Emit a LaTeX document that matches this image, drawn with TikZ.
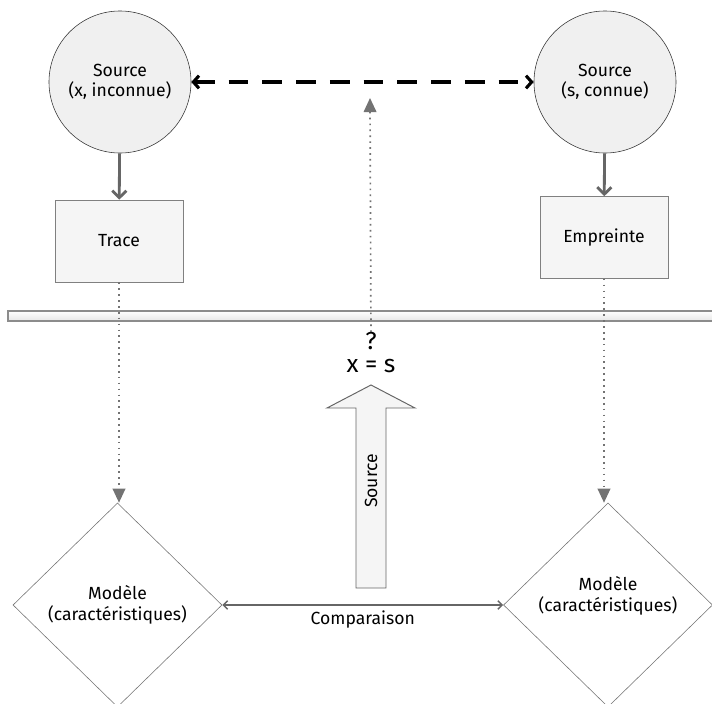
\documentclass[tikz,border=0pt]{standalone}
\usepackage{fontspec}
\setmainfont{Fira Sans}
\usetikzlibrary{shapes.geometric,arrows.meta,positioning}

\begin{document}
\begin{tikzpicture}[x=0.025cm,y=-0.025cm,
  font=\fontsize{12.5}{14.5}\selectfont,
  src/.style={circle,draw=black!80,fill=black!6,minimum size=3.55cm,inner sep=0pt,align=center},
  box/.style={rectangle,draw=black!50,fill=black!4,minimum width=3.2cm,minimum height=2.05cm},
  model/.style={diamond,draw=black!55,fill=white,minimum width=5.225cm,minimum height=5.1cm,inner sep=0pt,align=center},
  link/.style={draw=black!60,line width=2pt,-{Straight Barb[length=5pt,width=10pt]}},
  dots/.style={draw=black!55,line width=1.2pt,dash pattern=on 1.2pt off 3pt,-{Triangle[length=10pt,width=9pt]}}]
\useasboundingbox (0,0) rectangle (712,704);

% Separation bar
\draw[black!45,line width=0.8pt,top color=white,bottom color=black!10] (8,311) rectangle (716,321);

% Sources
\node[src] (srcx) at (120,82) {Source\\(x, inconnue)};
\node[src] (srcs) at (605,82) {Source\\(s, connue)};

% Trace and fingerprint
\node[box] (trace) at (119,241) {Trace};
\node[box] (empr) at (604,237.5) {Empreinte};

% Models
\node[model] (modx) at (117.5,605) {Modèle\\(caractéristiques)};
\node[model] (mods) at (608,605) {};
\node[align=center] (modstxt) at (608,596) {Modèle\\(caractéristiques)};

% Links
\draw[link] (srcx) -- (trace);
\draw[link] (srcs) -- (empr);
\draw[dots] (trace) -- (trace |- modx.north);
\draw[dots] (empr) -- (empr |- mods.north);
\draw[black,line width=2.2pt,dash pattern=on 14pt off 10pt,
  {Straight Barb[length=4pt,width=9pt]}-{Straight Barb[length=4pt,width=9pt]}] (srcx) -- (srcs);

% Comparison
\draw[black!60,line width=1.1pt,{Straight Barb[length=3pt,width=6pt]}-{Straight Barb[length=3pt,width=6pt]}]
  (modx) -- node[below,black] (cmp) {Comparaison} (mods);

% Big arrow
\draw[draw=black!60,fill=black!4,line width=0.7pt] (356,588) -- (356,408) -- (327,408) -- (371,385)
  -- (415,408) -- (386,408) -- (386,588) -- cycle;
\node[rotate=90] (srclbl) at (371,481) {Source};

% Question
\node[inner sep=1pt,font=\fontsize{17.5}{17}\selectfont] (eq) at (371,366) {x = s};
\node[inner sep=0pt,font=\fontsize{17.5}{17}\selectfont] (qm) at (371,341) {?};
\coordinate (eqtop) at (370,98);
\draw[dots] (qm) -- (eqtop);

\end{tikzpicture}
\end{document}
